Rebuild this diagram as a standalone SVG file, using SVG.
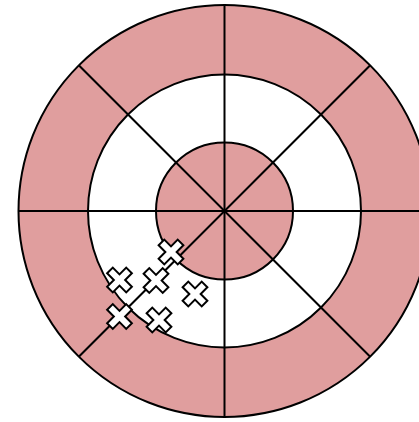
<svg xmlns="http://www.w3.org/2000/svg" xmlns:xlink="http://www.w3.org/1999/xlink" width="419" height="422" viewBox="0 0 419 422">
  <style>
    .ring { stroke: #000; stroke-width: 2; }
    .pink { fill: #e09e9e; }
    .white { fill: #ffffff; }
    .spoke { stroke: #000; stroke-width: 2; fill: none; }
    .mark { fill: #fff; stroke: #000; stroke-width: 2; stroke-linejoin: miter; }
  </style>
  <defs>
    <path id="cross" class="mark" d="M -4,-13.5 H 4 V -4 H 13.5 V 4 H 4 V 13.5 H -4 V 4 H -13.5 V -4 H -4 Z" transform="rotate(45)"/>
  </defs>
  <rect width="419" height="422" fill="#fff"/>
  <g id="target">
    <circle id="outer" class="ring pink" cx="224.5" cy="211" r="206"/>
    <circle id="middle" class="ring white" cx="224.5" cy="211" r="136.5"/>
    <circle id="inner" class="ring pink" cx="224.5" cy="211" r="68.5"/>
  </g>
  <g id="spokes">
    <line class="spoke" x1="18.5" y1="211" x2="430.5" y2="211"/>
    <line class="spoke" x1="224.5" y1="5" x2="224.5" y2="417"/>
    <line class="spoke" x1="78.8" y1="65.3" x2="370.2" y2="356.7"/>
    <line class="spoke" x1="370.2" y1="65.3" x2="78.8" y2="356.7"/>
  </g>
  <g id="marks">
    <g id="m1"><use xlink:href="#cross" transform="translate(171,252)"/></g>
    <g id="m2"><use xlink:href="#cross" transform="translate(119.5,280)"/></g>
    <g id="m3"><use xlink:href="#cross" transform="translate(156,280.5)"/></g>
    <g id="m4"><use xlink:href="#cross" transform="translate(195,294)"/></g>
    <g id="m5"><use xlink:href="#cross" transform="translate(119.5,316.5)"/></g>
    <g id="m6"><use xlink:href="#cross" transform="translate(159,320)"/></g>
  </g>
</svg>
